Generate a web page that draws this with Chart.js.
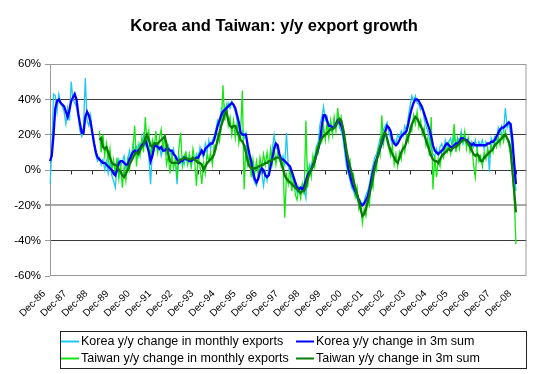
<!DOCTYPE html>
<html>
<head>
<meta charset="utf-8">
<script src="https://cdn.jsdelivr.net/npm/chart.js@4.4.1/dist/chart.umd.min.js"></script>
<style>
  html, body { margin: 0; padding: 0; background: #fff; }
  #wrap { position: relative; width: 547px; height: 374px; }
</style>
</head>
<body>
<div id="wrap"><canvas id="c" width="547" height="374"></canvas></div>
<script>
// ---------- data ----------
const monthNames = ['Jan','Feb','Mar','Apr','May','Jun','Jul','Aug','Sep','Oct','Nov','Dec'];
// monthly categories Dec-86 .. Jun-09
const categories = [];
for (let k = 0; k < 271; k++) {
  const m = (11 + k) % 12;
  const yr = (86 + Math.floor((11 + k) / 12)) % 100;
  categories.push(monthNames[m] + '-' + String(yr).padStart(2, '0'));
}
const tickLabels = ['Dec-86','Dec-87','Dec-88','Dec-89','Dec-90','Dec-91','Dec-92','Dec-93','Dec-94','Dec-95','Dec-96','Dec-97','Dec-98','Dec-99','Dec-00','Dec-01','Dec-02','Dec-03','Dec-04','Dec-05','Dec-06','Dec-07','Dec-08'];
const yTickValues = [-60, -40, -20, 0, 20, 40, 60];

const koreaMonthly = [
  -8, 10, 43, 42, 33, 43, 38, 36, 33, 26, 35, 28,
  50, 40, 38, 36, 30, 22, 19, 25, 52, 28, 25, 31,
  20, 14, 8, 5, 7, 3, 6, 0, 5, -2, 4, -3,
  -6, -10, 3, 6, 2, 5, 8, 1, 4, 11, 6, 14,
  10, 13, 8, 15, 13, 20, 14, 18, 8, -8, 12, 16,
  15, 11, 13, 8, 14, 12, 9, 14, 11, 7, 12, 6,
  -8, 8, 4, 7, 3, 9, 4, 8, 2, 7, 5, 9,
  5, 13, 9, 7, 15, 10, 17, 12, 17, 19, 23, 28,
  25, 34, 30, 36, 33, 38, 35, 39, 36, 33, 28, 24,
  19, 22, 18, 21, 10, 5, 2, -4, -7, -9, -3, 1,
  -2, -9, -1, -6, 1, 6, 12, 20, 13, 11, 6, 5,
  8, 3, 21, 2, -2, -4, -6, -9, -13, -10, -12, -8,
  -11, -16, 2, -2, 3, 6, 8, 13, 16, 26, 30, 36,
  28, 30, 22, 27, 21, 28, 25, 30, 24, 22, 18, 10,
  2, -2, -6, -10, -12, -15, -16, -19, -22, -19, -18, -14,
  -12, -8, -2, 3, 7, 9, 13, 18, 19, 23, 25, 27,
  21, 18, 14, 17, 15, 20, 18, 22, 19, 25, 22, 30,
  36, 42, 39, 42, 38, 37, 34, 36, 29, 25, 22, 18,
  12, 9, 8, 12, 8, 13, 15, 11, 17, 13, 16, 18,
  12, 20, 14, 18, 16, 22, 15, 19, 14, 18, 12, 16,
  13, 17, 12, 16, 14, 17, 12, 16, 13, -1, 18, 15,
  19, 17, 24, 21, 25, 22, 35, 24, 27, 20, 12, 0, -12
];

const korea3m = [
  5, 8, 20, 35, 39, 40, 38, 37, 36, 33, 30, 34,
  39, 41, 43, 40, 32, 26, 21, 21, 30, 33, 31, 27,
  21, 15, 10, 7, 6, 5, 4, 4, 3, 2, 1, 0,
  -2, -3, 0, 4, 5, 5, 4, 3, 3, 6, 8, 10,
  11, 10, 11, 12, 14, 15, 17, 14, 10, 5, 8, 13,
  14, 13, 12, 13, 11, 11, 12, 12, 11, 11, 9, 8,
  6, 4, 5, 5, 7, 6, 6, 5, 5, 6, 6, 7,
  7, 9, 11, 9, 12, 13, 14, 15, 15, 17, 21, 25,
  28, 31, 33, 34, 35, 36, 37, 38, 37, 35, 31, 27,
  21, 20, 20, 20, 14, 9, 5, -1, -5, -7, -5, -1,
  1, 0, -3, -4, -3, 2, 7, 12, 15, 14, 9, 6,
  6, 5, 4, 3, 2, -1, -4, -7, -10, -11, -10, -11,
  -9, -6, -3, -1, 0, 3, 5, 9, 12, 16, 25, 31,
  31, 28, 25, 25, 24, 24, 26, 28, 27, 25, 22, 16,
  8, 1, -3, -7, -10, -12, -14, -17, -19, -20, -19, -17,
  -15, -11, -6, -1, 3, 6, 9, 12, 15, 19, 22, 25,
  24, 22, 17, 15, 14, 15, 17, 19, 20, 21, 22, 26,
  31, 35, 38, 40, 40, 39, 37, 35, 32, 29, 26, 23,
  19, 14, 11, 10, 9, 10, 11, 12, 14, 15, 14, 13,
  13, 14, 15, 15, 16, 18, 18, 17, 17, 16, 15, 14,
  15, 14, 14, 14, 14, 14, 14, 14, 15, 15, 16, 16,
  17, 19, 21, 23, 24, 24, 25, 26, 27, 26, 17, 4, -8
];

const taiwanMonthly = [
  null, null, null, null, null, null, null, null, null, null, null, null,
  null, null, null, null, null, null, null, null, null, null, null, null,
  null, null, null, null, 22, 10, 20, 8, 15, 4, 12, 0,
  6, -2, 7, -5, 3, -10, 2, -6, 6, 0, 8, 12,
  25, 2, 14, 8, 18, 10, 30, 15, 22, 6, 17, 12,
  22, 10, 18, 23, 12, 20, 3, 8, -2, 9, 1, 6,
  -5, 12, 21, 2, 8, 10, 3, 9, 2, 12, 5, -9,
  8, 2, -8, 4, -2, 9, 5, 10, 3, 14, 12, 20,
  16, 24, 48, 28, 36, 25, 30, 20, 28, 18, 26, 15,
  22, 45, -11, 14, 3, 8, -4, 6, -2, 5, -3, 7,
  1, 9, 3, 10, 2, 12, 4, 13, 3, 10, 8, 2,
  5, -27, -3, -8, 2, -12, -4, -14, -17, -10, -16, -8,
  -14, 28, -10, 2, -4, 8, 2, 13, 10, 20, 16, 25,
  17, 27, 18, 28, 20, 30, 22, 35, 26, 30, 20, 12,
  8, 0, 5, -8, -3, -15, -10, -22, -18, -30, -22, -26,
  -16, -20, -5, -10, 4, 0, 12, 8, 31, 15, 22, 16,
  12, 8, 14, 3, 9, 2, 10, 6, 14, 10, 20, 16,
  24, 22, 31, 26, 33, 24, 28, 20, 24, 14, 18, 8,
  30, -11, 8, -4, 6, 2, 10, 7, 14, 10, 15, 9,
  15, 26, 10, 18, 12, 20, 16, 22, 12, 18, 10, 14,
  3, -4, 12, 5, 8, 2, 10, 6, 12, 8, 14, 10,
  16, 13, 19, 14, 21, 16, 22, 18, 14, 8, -2, -14, -42
];

const taiwan3m = [
  null, null, null, null, null, null, null, null, null, null, null, null,
  null, null, null, null, null, null, null, null, null, null, null, null,
  null, null, null, null, 17, 18, 13, 12, 13, 10, 7, 4,
  3, 3, 2, 0, -1, -3, -4, -2, 0, 3, 5, 7,
  9, 10, 9, 11, 13, 14, 18, 20, 17, 14, 13, 15,
  15, 15, 16, 17, 18, 19, 15, 9, 5, 4, 4, 4,
  4, 5, 6, 6, 7, 7, 6, 6, 6, 7, 6, 5,
  4, 4, 3, 0, 2, 4, 5, 6, 7, 9, 13, 17,
  21, 25, 28, 32, 33, 28, 25, 24, 25, 25, 22, 20,
  17, 16, 14, 10, 5, 2, 1, 1, 1, 1, 2, 2,
  3, 3, 4, 4, 5, 5, 6, 6, 7, 7, 7, 4,
  1, -3, -5, -6, -7, -8, -9, -10, -11, -12, -13, -12,
  -12, -9, -5, -2, 0, 2, 5, 9, 13, 16, 18, 19,
  20, 21, 22, 23, 23, 24, 25, 27, 29, 28, 24, 18,
  11, 6, 2, -2, -6, -10, -14, -18, -22, -26, -25, -22,
  -18, -14, -9, -4, 1, 5, 9, 13, 17, 20, 21, 18,
  14, 11, 9, 7, 5, 4, 7, 10, 12, 13, 16, 19,
  22, 26, 28, 30, 29, 27, 25, 23, 20, 17, 14, 11,
  8, 6, 5, 5, 4, 6, 8, 9, 10, 11, 12, 11,
  12, 13, 13, 14, 15, 16, 17, 17, 16, 15, 13, 11,
  9, 8, 9, 8, 5, 5, 7, 8, 9, 10, 11, 12,
  14, 15, 16, 17, 18, 19, 20, 18, 16, 12, 0, -12, -24
];

const seriesNames = [
  'Korea y/y change in monthly exports',
  'Korea y/y change in 3m sum',
  'Taiwan y/y change in monthly exports',
  'Taiwan y/y change in 3m sum'
];

// ---------- chart ----------
const FONT = "'Liberation Sans', Arial, Helvetica, sans-serif";
Chart.defaults.font.family = FONT;
Chart.defaults.color = '#000';

const decor = {
  id: 'decor',
  beforeDatasetsDraw(chart) {
    const { ctx, chartArea: a, scales: { x, y } } = chart;
    ctx.save();
    // plot border
    ctx.strokeStyle = '#9a9a9a';
    ctx.lineWidth = 1;
    ctx.strokeRect(a.left + 0.5, a.top + 0.5, a.width - 1, a.height - 1);
    // category tick marks at the 0% line
    const y0 = Math.round(y.getPixelForValue(0)) + 0.5;
    ctx.strokeStyle = '#333';
    ctx.beginPath();
    categories.forEach((c, i) => {
      if (i > 0 && tickLabels.includes(c)) {
        const px = Math.round(x.getPixelForValue(i)) + 0.5;
        ctx.moveTo(px, y0);
        ctx.lineTo(px, y0 + 4);
      }
    });
    ctx.stroke();
    ctx.restore();
  },
  afterDraw(chart) {
    const { ctx } = chart;
    ctx.save();
    // legend box
    ctx.strokeStyle = '#222';
    ctx.lineWidth = 1;
    ctx.strokeRect(60.5, 331.5, 466, 37);
    const cols = [61, 296];
    const rows = [341.5, 358.5];
    ctx.font = '12.5px ' + FONT;
    ctx.textBaseline = 'middle';
    ctx.textAlign = 'left';
    chart.data.datasets.forEach((ds, i) => {
      const cx = cols[i % 2], cy = rows[Math.floor(i / 2)];
      ctx.strokeStyle = ds.borderColor;
      ctx.lineWidth = 2;
      ctx.beginPath();
      ctx.moveTo(cx, cy);
      ctx.lineTo(cx + 18, cy);
      ctx.stroke();
      ctx.fillStyle = '#000';
      ctx.fillText(ds.label, cx + 20, cy + 0.5);
    });
    ctx.restore();
  }
};

new Chart(document.getElementById('c'), {
  type: 'line',
  data: {
    labels: categories,
    datasets: [
      { label: seriesNames[0], data: koreaMonthly, borderColor: '#1ec8f5', borderWidth: 1.3, order: 4 },
      { label: seriesNames[1], data: korea3m, borderColor: '#0000ff', borderWidth: 2.3, order: 2 },
      { label: seriesNames[2], data: taiwanMonthly, borderColor: '#14e614', borderWidth: 1.3, order: 3 },
      { label: seriesNames[3], data: taiwan3m, borderColor: '#0a7a0a', borderWidth: 2.3, order: 1 }
    ]
  },
  options: {
    responsive: false,
    animation: false,
    devicePixelRatio: 1,
    elements: { point: { radius: 0 }, line: { tension: 0 } },
    layout: { padding: { top: 0, left: 10, right: 9, bottom: 0 } },
    plugins: {
      legend: { display: false },
      tooltip: { enabled: false },
      title: {
        display: true,
        text: 'Korea and Taiwan: y/y export growth',
        font: { size: 16.5, weight: 'bold', family: FONT },
        color: '#000',
        padding: { top: 17, bottom: 27.2 }
      }
    },
    scales: {
      x: {
        type: 'category',
        offset: false,
        grid: { display: false, drawTicks: false },
        border: { display: false },
        afterFit(s) { s.height = 98; },
        ticks: {
          autoSkip: false,
          minRotation: 45,
          maxRotation: 45,
          padding: 12,
          labelOffset: -6,
          font: { size: 10 },
          color: '#000',
          callback(v, idx) {
            const c = categories[idx];
            return tickLabels.includes(c) ? c : '';
          }
        }
      },
      y: {
        min: -60,
        max: 60,
        afterFit(s) { s.width = 40; },
        afterBuildTicks(s) { s.ticks = yTickValues.map(v => ({ value: v })); },
        border: { display: false },
        grid: {
          drawTicks: true,
          tickLength: 5,
          tickColor: '#9a9a9a',
          color(ctx) {
            const v = ctx.tick && ctx.tick.value;
            if (v === 60 || v === -60) return 'rgba(0,0,0,0)';
            if (v === -20) return '#a8a8a8';
            return '#3a3a3a';
          },
          lineWidth(ctx) {
            const v = ctx.tick && ctx.tick.value;
            return v === -20 ? 2 : 1;
          }
        },
        ticks: {
          padding: 4,
          font: { size: 11.5 },
          color: '#000',
          callback(v) { return v + '%'; }
        }
      }
    }
  },
  plugins: [decor]
});
</script>
</body>
</html>
